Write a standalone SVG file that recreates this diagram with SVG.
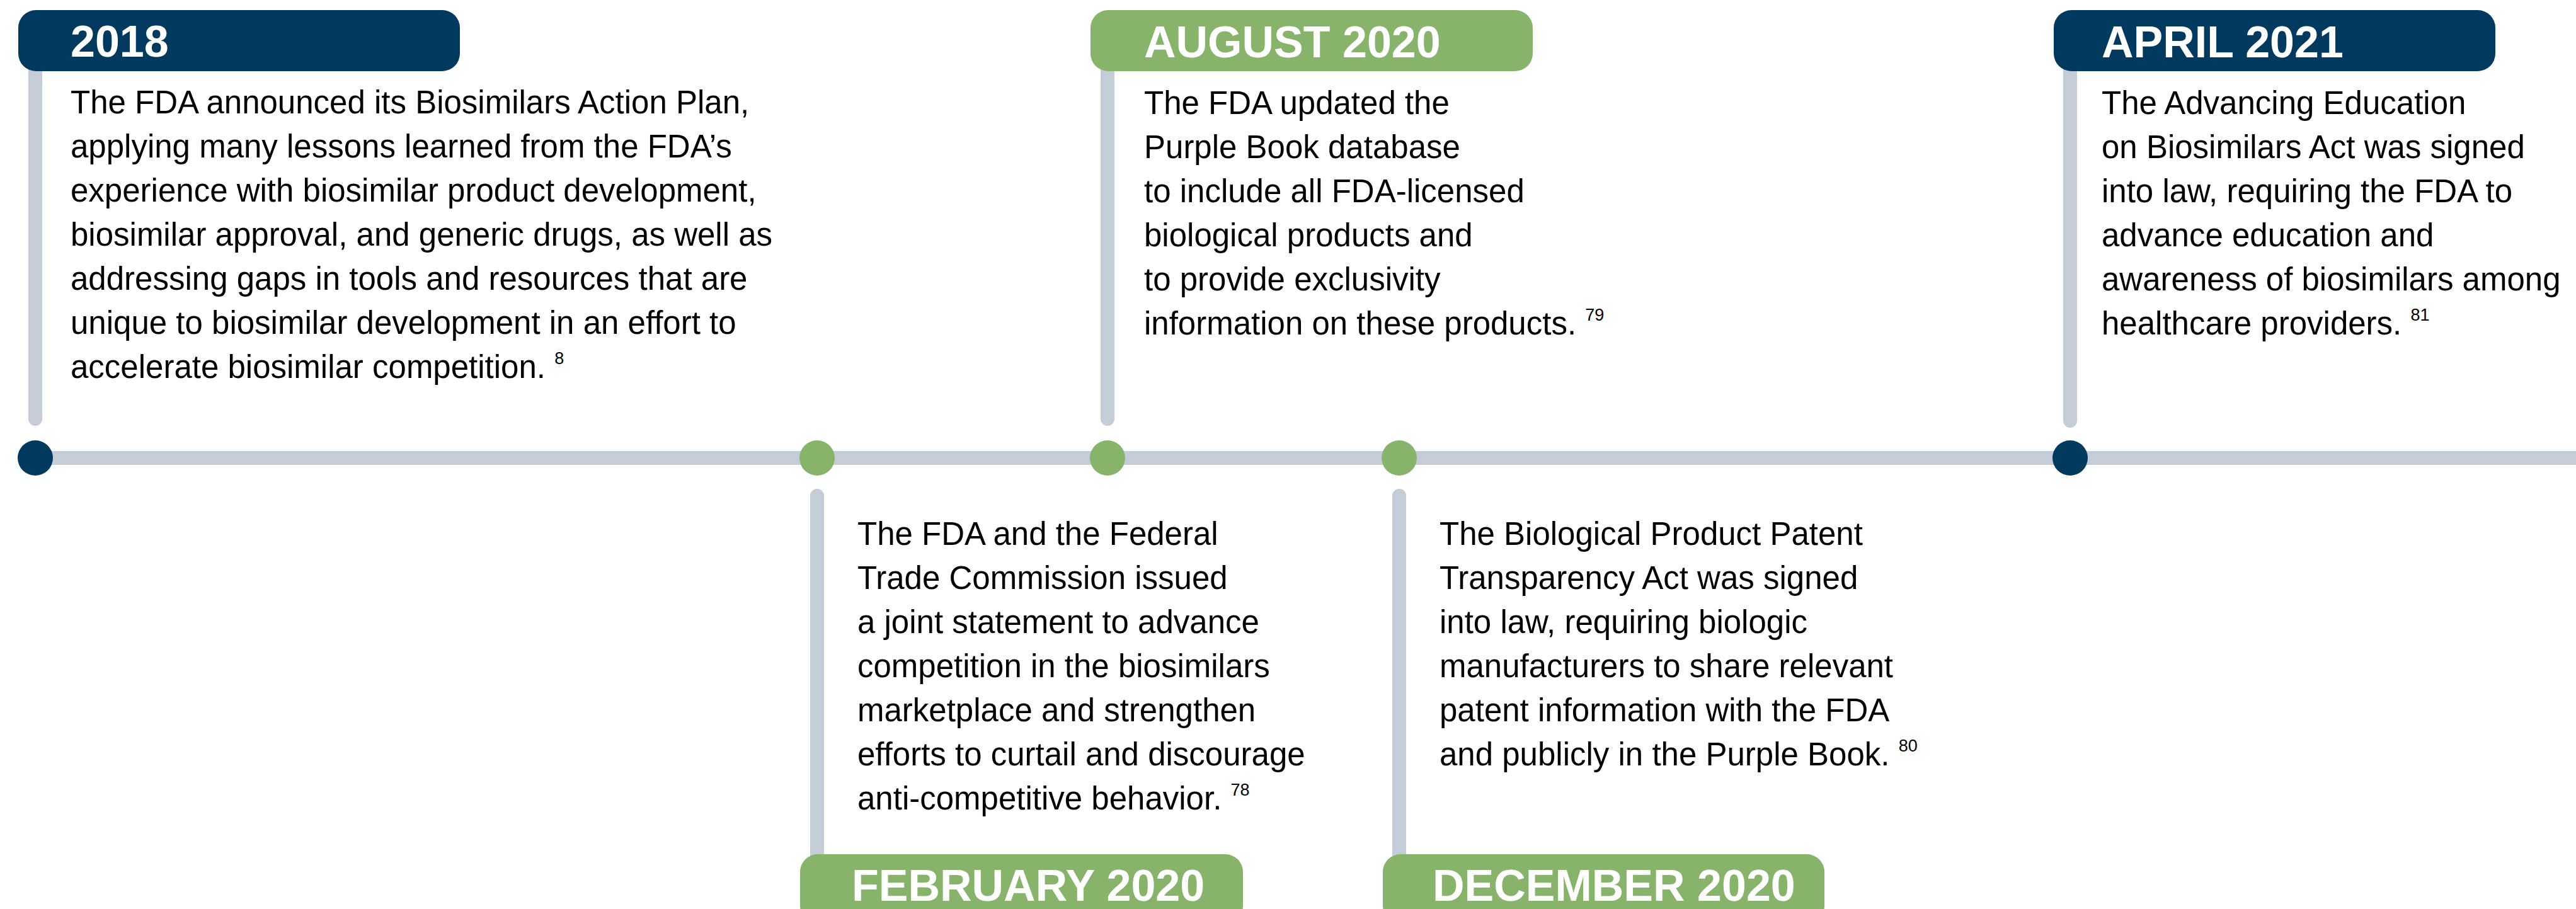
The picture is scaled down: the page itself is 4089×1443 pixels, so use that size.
<svg xmlns="http://www.w3.org/2000/svg" width="4089" height="1443" viewBox="0 0 4089 1443">
<style>
.bg{fill:#ffffff}
.track{stroke:#C4CCD8;stroke-width:22;fill:none}
.stem{stroke:#C4CCD8;stroke-width:22;stroke-linecap:round;fill:none}
.navy{fill:#023A5F}
.green{fill:#87B36A}
.hdr{font-family:"Liberation Sans",Arial,sans-serif;font-weight:bold;font-size:70px;fill:#ffffff}
.body{font-family:"Liberation Sans",Arial,sans-serif;font-size:51px;fill:#000000}
.sup{font-size:27px}
</style>
<rect class="bg" x="0" y="0" width="4089" height="1443"/>
<g id="connectors">
<line class="track" x1="56" y1="727" x2="4089" y2="727"/>
<line class="stem" x1="56" y1="100" x2="56" y2="665"/>
<line class="stem" x1="1758" y1="100" x2="1758" y2="665"/>
<line class="stem" x1="3286" y1="100" x2="3286" y2="668"/>
<line class="stem" x1="1297" y1="787" x2="1297" y2="1380"/>
<line class="stem" x1="2221" y1="787" x2="2221" y2="1380"/>
</g>
<g id="dots">
<circle class="navy" cx="56" cy="727" r="28"/>
<circle class="green" cx="1297" cy="727" r="28"/>
<circle class="green" cx="1758" cy="727" r="28"/>
<circle class="green" cx="2221" cy="727" r="28"/>
<circle class="navy" cx="3286" cy="727" r="28"/>
</g>
<g id="node-2018">
<rect class="navy" x="29" y="16" width="701" height="97" rx="28"/>
<text class="hdr" x="112" y="90">2018</text>
<text class="body">
<tspan x="112" y="180">The FDA announced its Biosimilars Action Plan,</tspan>
<tspan x="112" y="250">applying many lessons learned from the FDA’s</tspan>
<tspan x="112" y="320">experience with biosimilar product development,</tspan>
<tspan x="112" y="390">biosimilar approval, and generic drugs, as well as</tspan>
<tspan x="112" y="460">addressing gaps in tools and resources that are</tspan>
<tspan x="112" y="530">unique to biosimilar development in an effort to</tspan>
<tspan x="112" y="600">accelerate biosimilar competition. <tspan class="sup" dy="-22">8</tspan></tspan>
</text>
</g>
<g id="node-aug2020">
<rect class="green" x="1731" y="16" width="702" height="97" rx="28"/>
<text class="hdr" x="1816" y="91">AUGUST 2020</text>
<text class="body">
<tspan x="1816" y="181">The FDA updated the</tspan>
<tspan x="1816" y="251">Purple Book database</tspan>
<tspan x="1816" y="321">to include all FDA-licensed</tspan>
<tspan x="1816" y="391">biological products and</tspan>
<tspan x="1816" y="461">to provide exclusivity</tspan>
<tspan x="1816" y="531">information on these products. <tspan class="sup" dy="-22">79</tspan></tspan>
</text>
</g>
<g id="node-apr2021">
<rect class="navy" x="3260" y="16" width="701" height="97" rx="28"/>
<text class="hdr" x="3336" y="91">APRIL 2021</text>
<text class="body">
<tspan x="3336" y="181">The Advancing Education</tspan>
<tspan x="3336" y="251">on Biosimilars Act was signed</tspan>
<tspan x="3336" y="321">into law, requiring the FDA to</tspan>
<tspan x="3336" y="391">advance education and</tspan>
<tspan x="3336" y="461">awareness of biosimilars among</tspan>
<tspan x="3336" y="531">healthcare providers. <tspan class="sup" dy="-22">81</tspan></tspan>
</text>
</g>
<g id="node-feb2020">
<text class="body">
<tspan x="1361" y="865">The FDA and the Federal</tspan>
<tspan x="1361" y="935">Trade Commission issued</tspan>
<tspan x="1361" y="1005">a joint statement to advance</tspan>
<tspan x="1361" y="1075">competition in the biosimilars</tspan>
<tspan x="1361" y="1145">marketplace and strengthen</tspan>
<tspan x="1361" y="1215">efforts to curtail and discourage</tspan>
<tspan x="1361" y="1285">anti-competitive behavior. <tspan class="sup" dy="-22">78</tspan></tspan>
</text>
<rect class="green" x="1270" y="1356" width="703" height="110" rx="28"/>
<text class="hdr" x="1352" y="1430">FEBRUARY 2020</text>
</g>
<g id="node-dec2020">
<text class="body">
<tspan x="2285" y="865">The Biological Product Patent</tspan>
<tspan x="2285" y="935">Transparency Act was signed</tspan>
<tspan x="2285" y="1005">into law, requiring biologic</tspan>
<tspan x="2285" y="1075">manufacturers to share relevant</tspan>
<tspan x="2285" y="1145">patent information with the FDA</tspan>
<tspan x="2285" y="1215">and publicly in the Purple Book. <tspan class="sup" dy="-22">80</tspan></tspan>
</text>
<rect class="green" x="2195" y="1356" width="701" height="110" rx="28"/>
<text class="hdr" x="2274" y="1430">DECEMBER 2020</text>
</g>
</svg>
